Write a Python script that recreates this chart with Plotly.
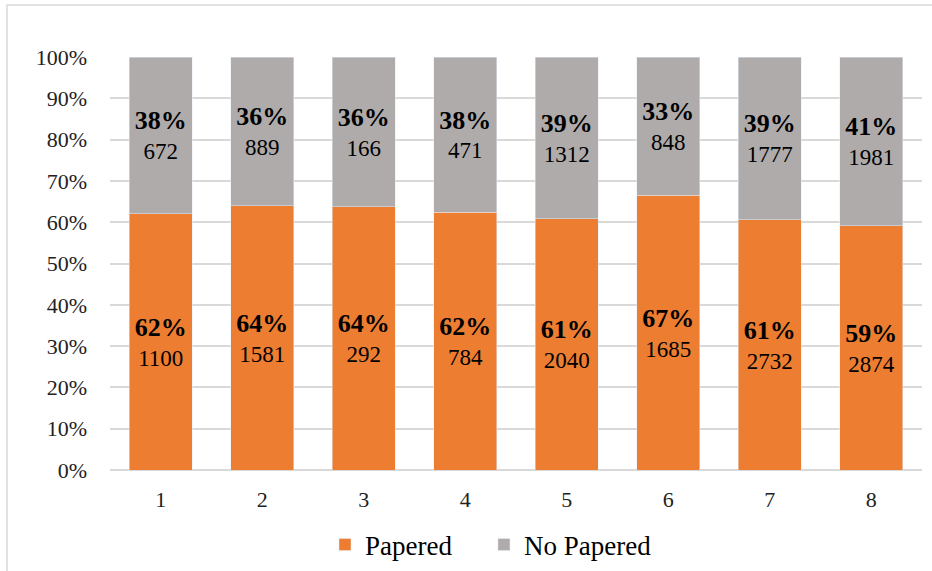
import plotly.graph_objects as go

categories = ["1", "2", "3", "4", "5", "6", "7", "8"]
papered = [1100, 1581, 292, 784, 2040, 1685, 2732, 2874]
no_papered = [672, 889, 166, 471, 1312, 848, 1777, 1981]
papered_pct = [62, 64, 64, 62, 61, 67, 61, 59]
no_papered_pct = [38, 36, 36, 38, 39, 33, 39, 41]
series_names = ["Papered", "No Papered"]

ORANGE = "#ED7D31"
GRAY = "#AFABAB"
FONT = "Liberation Serif"


def labels(pcts, counts):
    return [f"<span style='font-size:26px'><b>{p}%</b></span><br>{c}"
            for p, c in zip(pcts, counts)]


fig = go.Figure()
fig.add_trace(go.Bar(
    x=categories, y=papered, name=series_names[0] + "&nbsp;" * 4, marker_color=ORANGE,
    text=labels(papered_pct, papered), textposition="inside",
    insidetextanchor="middle", textangle=0,
    textfont=dict(family=FONT, size=23, color="black"),
))
fig.add_trace(go.Bar(
    x=categories, y=no_papered, name=series_names[1], marker_color=GRAY,
    text=labels(no_papered_pct, no_papered), textposition="inside",
    insidetextanchor="middle", textangle=0,
    textfont=dict(family=FONT, size=23, color="black"),
))

W, H = 932, 571
ml, mr, mt, mb = 110, 10, 57, 101
pw, ph = W - ml - mr, H - mt - mb

fig.update_layout(
    barmode="stack", barnorm="percent", bargap=0.38,
    width=W, height=H,
    margin=dict(l=ml, r=mr, t=mt, b=mb, autoexpand=False),
    paper_bgcolor="white", plot_bgcolor="white",
    font=dict(family=FONT, size=22, color="#222"),
    uniformtext=dict(mode=False),
    showlegend=True,
    legend=dict(orientation="h", xref="container", yref="container",
                x=325 / W, xanchor="left", y=(H - 545) / H, yanchor="middle",
                font=dict(family=FONT, size=27, color="black"), traceorder="normal",
                itemwidth=30, bgcolor="rgba(0,0,0,0)"),
    xaxis=dict(showgrid=False, showline=False, ticks="", ticklabelstandoff=14,
               automargin=False,
               tickfont=dict(family=FONT, size=22, color="#222")),
    yaxis=dict(range=[0, 100], dtick=10, ticksuffix="%", showgrid=True,
               gridcolor="#D9D9D9", gridwidth=1.5, zeroline=True,
               zerolinecolor="#D9D9D9", zerolinewidth=1.5, showline=False,
               ticklabelstandoff=22, automargin=False,
               tickfont=dict(family=FONT, size=22, color="#222")),
    shapes=[dict(type="rect", xref="paper", yref="paper",
                 x0=(7 - ml) / pw, x1=(W + 5 - ml) / pw,
                 y0=(H - mb - (H + 5)) / ph, y1=(H - mb - 5) / ph,
                 line=dict(color="#D9D9D9", width=1.5), fillcolor="rgba(0,0,0,0)",
                 layer="below")],
)

fig.write_html("out.html")
